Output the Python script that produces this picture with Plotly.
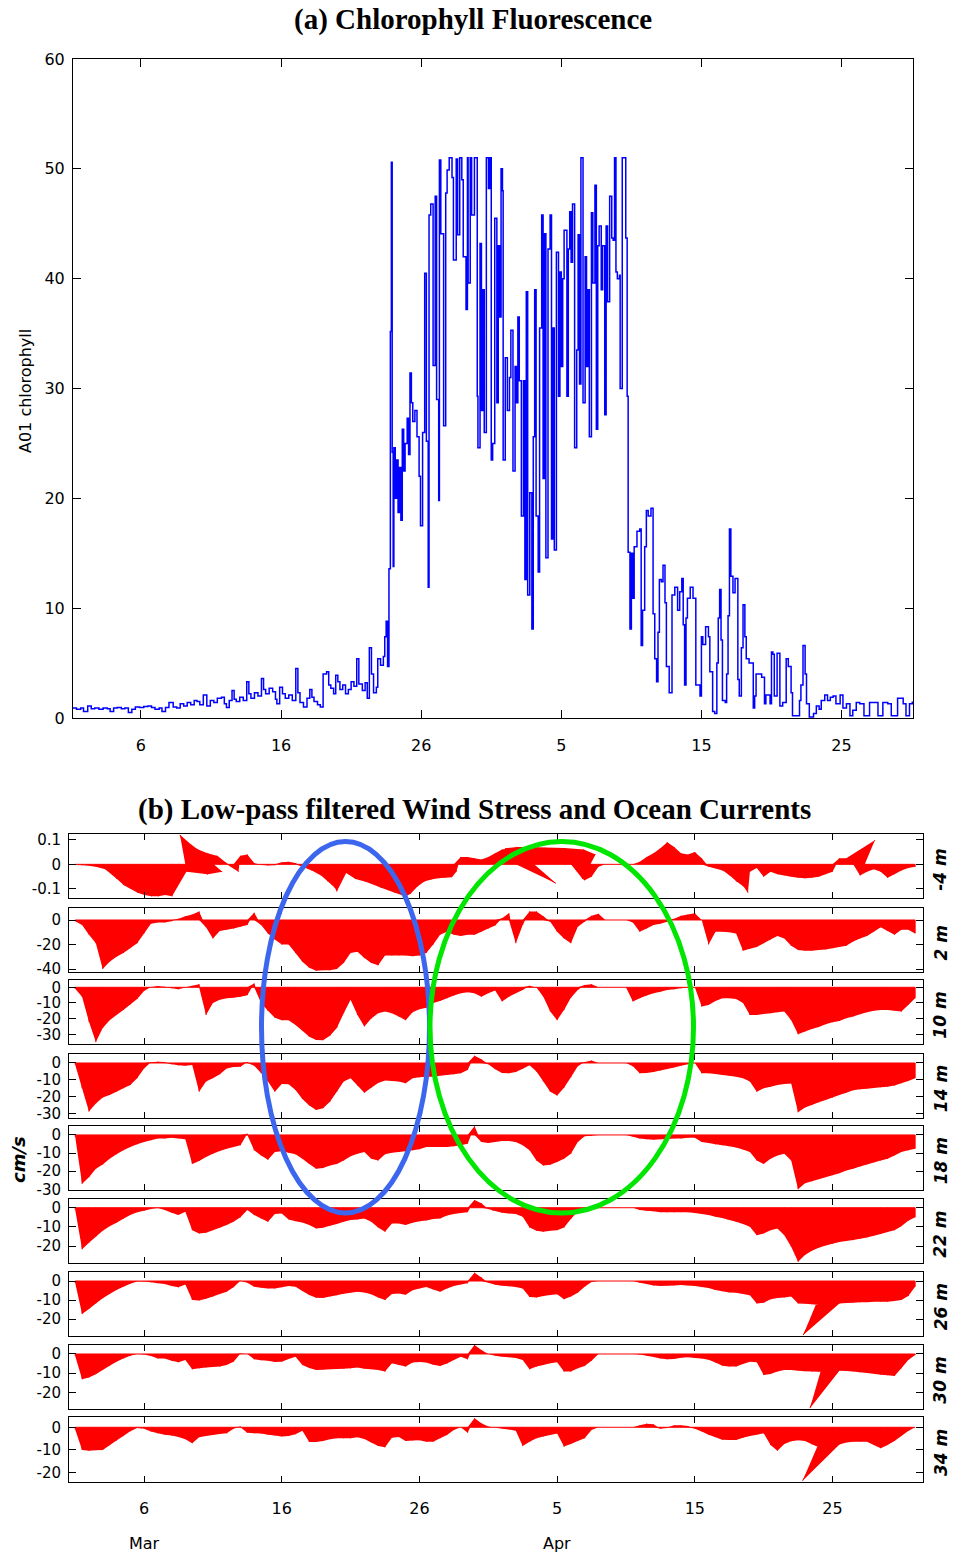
import plotly.graph_objects as go

W, H = 953, 1552

# ---------------- (a) chlorophyll fluorescence at buoy A01 ----------------
# day 0 = 1 March 00:00
chl_day = [
    0.15, 0.4, 0.7, 0.9, 1.2, 1.45, 1.7, 2.0, 2.3, 2.6,
    2.8, 3.05, 3.3, 3.6, 3.85, 4.1, 4.35, 4.6, 4.9, 5.2,
    5.5, 5.75, 6.0, 6.3, 6.5, 6.75, 7.0, 7.3, 7.55, 7.8,
    8.05, 8.3, 8.55, 8.8, 9.0, 9.2, 9.45, 9.7, 9.95, 10.2,
    10.45, 10.75, 10.95, 11.1, 11.3, 11.5, 11.65, 11.8, 12.05, 12.3,
    12.55, 12.7, 12.85, 13.1, 13.35, 13.6, 13.75, 13.9, 14.15, 14.4,
    14.6, 14.7, 14.9, 15.1, 15.3, 15.55, 15.8, 16.05, 16.2, 16.35,
    16.6, 16.85, 17.05, 17.2, 17.35, 17.6, 17.8, 18.0, 18.25, 18.4,
    18.55, 18.75, 18.9, 19.05, 19.2, 19.4, 19.6, 19.8, 20.0, 20.2,
    20.4, 20.55, 20.8, 21.0, 21.15, 21.3, 21.45, 21.6, 21.8, 21.9,
    22.1, 22.3, 22.4, 22.5, 22.6, 22.7, 22.8, 22.87, 22.93, 23.0,
    23.05, 23.15, 23.25, 23.35, 23.45, 23.55, 23.65, 23.75, 23.85, 24.0,
    24.1, 24.2, 24.3, 24.4, 24.55, 24.7, 24.85, 24.95, 25.1, 25.25,
    25.37, 25.5, 25.56, 25.68, 25.85, 26.0, 26.1, 26.25, 26.3, 26.4,
    26.6, 26.75, 26.85, 27.0, 27.2, 27.3, 27.5, 27.6, 27.75, 27.9,
    28.0, 28.2, 28.3, 28.35, 28.5, 28.6, 28.8, 28.9, 29.0, 29.05,
    29.2, 29.3, 29.4, 29.5, 29.65, 29.8, 29.9, 30.0, 30.1, 30.25,
    30.4, 30.5, 30.6, 30.7, 30.8, 30.85, 31.0, 31.15, 31.3, 31.4,
    31.55, 31.7, 31.8, 31.9, 32.0, 32.15, 32.3, 32.4, 32.5, 32.6,
    32.75, 32.9, 33.0, 33.1, 33.2, 33.35, 33.45, 33.6, 33.7, 33.8,
    33.9, 34.05, 34.2, 34.3, 34.4, 34.5, 34.65, 34.8, 34.9, 35.0,
    35.1, 35.2, 35.4, 35.5, 35.6, 35.7, 35.8, 35.95, 36.1, 36.2,
    36.3, 36.4, 36.55, 36.7, 36.8, 36.9, 37.0, 37.15, 37.25, 37.4,
    37.5, 37.6, 37.7, 37.85, 37.95, 38.1, 38.2, 38.3, 38.45, 38.6,
    38.7, 38.8, 38.9, 39.0, 39.15, 39.2, 39.35, 39.5, 39.6, 39.7,
    39.77, 39.9, 40.0, 40.1, 40.2, 40.4, 40.6, 40.7, 40.8, 40.95,
    41.07, 41.2, 41.4, 41.55, 41.67, 41.8, 41.9, 42.0, 42.14, 42.26,
    42.4, 42.5, 42.7, 42.9, 43.1, 43.3, 43.45, 43.6, 43.7, 43.8,
    43.9, 44.0, 44.2, 44.4, 44.6, 44.9, 45.0, 45.1, 45.3, 45.5,
    45.6, 45.8, 45.95, 46.1, 46.2, 46.3, 46.4, 46.5, 46.7, 46.8,
    46.9, 47.0, 47.1, 47.25, 47.4, 47.6, 47.7, 47.85, 47.97, 48.1,
    48.2, 48.4, 48.7, 48.8, 48.9, 49.0, 49.3, 49.5, 49.6, 49.9,
    50.0, 50.1, 50.2, 50.4, 50.6, 50.8, 51.05, 51.2, 51.4, 51.5,
    51.8, 52.0, 52.1, 52.25, 52.4, 52.5, 52.7, 53.0, 53.2, 53.4,
    53.55, 53.8, 54.0, 54.2, 54.4, 54.6, 54.9, 55.1, 55.35, 55.6,
    55.8, 56.05, 56.3, 56.6, 57.0, 57.4, 57.6, 57.95, 58.3, 58.55,
    58.8, 59.0, 59.4, 59.6, 59.85, 60.05,
]
chl_val = [
    0.9, 0.8, 0.9, 0.6, 1.1, 0.85, 0.9, 0.8, 0.9, 0.85,
    0.6, 0.9, 0.95, 0.85, 0.9, 0.5, 0.8, 1.0, 0.95, 1.05,
    1.1, 0.95, 0.8, 0.9, 0.6, 0.95, 1.4, 1.0, 0.9, 1.3,
    1.1, 1.4, 1.2, 1.6, 1.5, 1.2, 2.1, 1.1, 1.6, 1.4,
    1.8, 1.9, 1.3, 0.95, 1.6, 2.5, 1.7, 1.5, 1.9, 1.6,
    3.3, 2.2, 1.8, 2.3, 2.0, 3.6, 2.6, 2.2, 2.7, 2.4,
    1.7, 1.3, 2.8, 2.2, 1.8, 2.1, 1.6, 4.5, 2.3, 1.4,
    1.0, 1.8, 2.6, 1.9, 1.5, 1.2, 1.0, 4.0, 4.2, 3.0,
    2.7, 2.2, 3.9, 3.3, 2.6, 3.0, 2.2, 2.6, 3.3, 2.9,
    5.4, 3.1, 2.5, 3.2, 1.8, 6.4, 4.0, 2.3, 2.8, 5.4,
    4.8, 5.6, 7.4, 8.8, 4.7, 13.6, 35.2, 50.6, 24.2, 13.8,
    24.6, 20.0, 23.5, 18.7, 22.8, 18.0, 26.3, 22.5, 25.0, 27.3,
    24.0, 31.4, 28.7, 27.0, 28.0, 25.6, 22.0, 17.5, 26.0, 40.5,
    25.2, 11.9, 45.8, 46.8, 32.1, 47.5, 29.0, 19.8, 50.8, 44.1,
    26.6, 47.8, 49.9, 51.0, 49.2, 41.7, 50.9, 44.0, 51.0, 49.0,
    42.0, 37.2, 51.0, 39.6, 51.0, 45.8, 51.0, 51.0, 29.3, 24.6,
    43.2, 28.0, 39.0, 26.0, 51.0, 48.2, 51.0, 23.5, 25.0, 45.5,
    28.7, 43.0, 36.5, 50.0, 48.0, 23.5, 32.8, 28.0, 31.0, 35.3,
    22.5, 32.0, 28.7, 36.5, 30.7, 18.4, 30.7, 12.6, 38.8, 11.2,
    20.5, 8.1, 25.6, 39.0, 18.4, 13.3, 35.5, 45.8, 21.8, 44.1,
    14.6, 42.7, 45.8, 16.3, 35.5, 15.3, 42.4, 29.3, 40.6, 32.0,
    40.0, 44.4, 29.3, 42.7, 46.1, 41.5, 46.8, 24.6, 33.5, 44.0,
    30.4, 51.0, 28.7, 42.0, 32.0, 39.0, 25.6, 46.0, 39.6, 48.5,
    26.3, 43.0, 44.8, 39.0, 43.0, 27.6, 44.8, 37.9, 47.5, 43.7,
    43.5, 51.0, 40.6, 40.0, 40.3, 30.0, 51.0, 51.0, 43.7, 29.3,
    15.1, 8.1, 15.0, 10.9, 15.6, 17.0, 17.2, 6.6, 9.8, 15.6,
    18.9, 18.4, 19.1, 9.5, 5.4, 3.3, 7.8, 12.6, 12.4, 13.9,
    10.5, 4.7, 2.3, 11.2, 11.9, 9.8, 11.5, 12.7, 8.5, 3.0,
    9.1, 10.9, 11.9, 10.9, 3.0, 2.0, 7.4, 6.7, 8.3, 7.4,
    4.2, 0.6, 0.4, 5.0, 9.1, 11.7, 7.1, 1.6, 1.4, 4.0,
    9.3, 17.2, 12.9, 11.4, 12.7, 3.5, 2.0, 6.4, 10.3, 7.4,
    5.4, 5.0, 0.9, 2.0, 4.0, 4.0, 3.7, 1.3, 2.1, 1.3,
    6.0, 5.8, 2.0, 5.9, 1.1, 1.4, 5.4, 4.7, 2.3, 0.2,
    0.2, 1.6, 3.0, 6.6, 4.0, 1.3, 0.1, 0.4, 1.1, 0.8,
    1.6, 2.1, 1.6, 1.9, 2.0, 1.3, 2.1, 0.9, 1.3, 0.2,
    0.7, 1.4, 1.3, 0.2, 1.4, 1.4, 0.2, 1.4, 1.3, 0.2,
    0.2, 1.8, 1.3, 0.2, 1.3, 1.5,
]

# ---------------- (b) low-pass wind stress and currents ----------------
# sticks every 12 h from 1 March 00:00 (day 0) to 2 May 00:00 (day 61)
stick_days = [0.5 * i for i in range(123)]

# wind stress (N m^-2), north and east components
wind_north = [
    -0.003, -0.004, -0.006, -0.01, -0.02, -0.06, -0.085, -0.1, -0.115, -0.125,
    -0.13, -0.13, -0.125, -0.13, -0.03, -0.04, -0.03, 0.12, 0.10, 0.08,
    0.06, 0.045, 0.035, -0.03, 0.035, 0.04, 0.005, -0.003, -0.005, -0.004,
    0.008, 0.01, 0.005, -0.01, -0.025, -0.045, -0.07, -0.095, -0.11, -0.035,
    -0.06, -0.07, -0.08, -0.095, -0.105, -0.115, -0.125, -0.13, -0.12, -0.09,
    -0.07, -0.062, -0.057, -0.055, -0.052, -0.03, 0.03, 0.03, 0.025, 0.02,
    0.03, 0.045, 0.06, 0.065, 0.065, -0.077, 0.065, 0.07, 0.07, 0.068,
    0.066, 0.06, 0.04, -0.06, -0.065, -0.05, -0.01, 0.0, 0.0, 0.0,
    0.0, 0.0, 0.01, 0.03, 0.045, 0.065, 0.09, 0.07, 0.045, 0.04,
    0.05, 0.025, -0.01, -0.025, -0.045, -0.07, -0.09, -0.115, -0.03, -0.015,
    -0.05, -0.03, -0.04, -0.045, -0.05, -0.055, -0.057, -0.055, -0.05, -0.04,
    -0.03, 0.025, 0.025, 0.098, -0.045, -0.03, -0.02, -0.03, -0.055, -0.04,
    -0.025, -0.015, -0.01,
]
wind_east = [
    0.0, 0.0, 0.0, 0.0, 0.01, 0.03, 0.03, 0.03, 0.03, 0.03,
    0.03, 0.03, 0.03, 0.03, 0.06, 0.12, 0.15, -0.05, -0.06, -0.06,
    -0.06, -0.05, -0.04, 0.02, 0.0, 0.0, 0.0, 0.0, 0.0, 0.0,
    0.0, 0.0, 0.0, 0.0, 0.01, 0.02, 0.02, 0.02, 0.0, 0.01,
    0.02, 0.03, 0.03, 0.04, 0.04, 0.04, 0.04, 0.03, 0.02, 0.02,
    0.02, 0.02, 0.02, 0.02, 0.02, 0.01, 0.0, 0.0, 0.0, 0.0,
    0.0, 0.0, 0.0, 0.0, 0.0, 0.135, -0.1, -0.08, -0.05, -0.02,
    0.03, 0.08, 0.1, 0.02, 0.0, 0.0, 0.0, 0.0, 0.0, 0.0,
    0.0, 0.0, 0.0, 0.0, 0.0, 0.0, 0.0, 0.0, 0.0, 0.0,
    0.0, 0.0, 0.0, 0.03, 0.03, 0.03, 0.03, 0.02, 0.0, 0.0,
    0.0, 0.0, 0.0, 0.0, 0.0, 0.0, 0.0, 0.0, 0.0, 0.0,
    0.0, 0.0, 0.0, 0.088, 0.0, 0.0, 0.0, 0.0, 0.0, 0.0,
    0.0, 0.0, 0.0,
]

# current north components (cm/s) at each depth
v_2m = [
    -1, -4, -12, -19, -40, -34, -30, -27, -23, -19,
    -11, -3, -2, -2, -1, 1, 3, 4.5, 7, -6,
    -15, -9, -8, -7, -5.5, -4, 6, -4, -11, -16,
    -20, -20, -27, -34, -39, -41.5, -41, -41, -40, -35,
    -27, -26, -31, -35, -37, -29, -29, -29, -29, -29.5,
    -29, -27, -20, -12, -9.5, -12, -13, -12, -12, -9.5,
    -7, -4.5, 1.5, 5.5, -19, -4, 7, 7, 3, -1.5,
    -9.5, -15, -19, -5.5, -1.5, 3.5, 5, 0, 0, 0,
    0, -2, -9.5, -7, -4, -3, -1.5, 1, 3.5, 4.5,
    5.5, 0, -20, -9.5, -9.5, -10, -11, -25, -23.5, -22,
    -19, -16, -13, -15, -21, -24.5, -25, -25, -24.5, -24,
    -23, -22, -21, -17.5, -15, -13, -9.5, -6, -9, -12,
    -8, -8, -11,
]
v_10m = [
    -1, -6, -22, -35, -26, -21, -17.7, -14.5, -11, -7.5,
    -2.3, 0.2, 0.8, 0.4, -0.6, -1.3, -0.2, 1, 2, -17.7,
    -10, -8, -7, -6.6, -6, -5, 2.5, -10, -15, -19.4,
    -21, -21, -24, -27.7, -31.5, -33.6, -33.8, -31, -26, -16.6,
    -8, -17.7, -25, -20, -16.6, -15.5, -16.6, -18.7, -21, -16,
    -14, -13, -10, -8.7, -7, -5.3, -3.8, -3.2, -3.8, -6,
    -3.8, -2, -9, -6, -3.8, -1.7, 1, -0.2, -6, -15.5,
    -21, -14.5, -6.6, -1.7, 1.5, 2, 0, 0, 0, 0,
    0, -9, -7, -5.3, -3.8, -2.8, -1.7, -1.3, -0.6, -0.2,
    0, -12.3, -11.3, -8.7, -7, -7, -7.5, -10, -17.7, -17.7,
    -17, -16.6, -16, -15.5, -21, -30, -28.3, -26.6, -25.3, -23.6,
    -22.3, -21.5, -19.8, -18.7, -17.2, -16, -15, -14.5, -14.5, -15,
    -15.5, -11.3, -7,
]
v_14m = [
    -1, -15, -28.8, -24, -20.5, -19, -17, -15, -13, -9,
    -3.2, 0.4, 0.8, 0.6, -0.8, -1.4, -1.6, -1.2, -17, -11,
    -9, -6.7, -3.2, -2.4, -2.2, 0.6, -1.6, -6, -11, -17,
    -12.4, -12.6, -16, -21.3, -25.2, -27.8, -26.8, -22.9, -17, -11,
    -9, -13.4, -17.6, -14.6, -11.8, -10.3, -10.7, -11, -12, -9,
    -8.5, -8.1, -8.1, -7.5, -7.1, -6.7, -6.1, -4.1, 4.3, 2.2,
    -0.8, -3.7, -5.9, -6.1, -5.3, -3.4, -1.4, -5.1, -11, -17,
    -19.3, -14.6, -8.5, -2, 0.6, 1.4, 0, 0, 0, 0,
    0, -2, -6.1, -5.9, -5.3, -4.5, -3.6, -2.6, -1.6, -0.8,
    0, -6.1, -6.1, -6.5, -7.1, -7.5, -8.1, -9, -11, -17,
    -15, -14, -13, -12.4, -12.2, -29.2, -26.4, -24.9, -23.3, -21.9,
    -20.5, -18.9, -17.6, -16.2, -15.6, -15.2, -14.8, -14.4, -14, -13.4,
    -12, -10.7, -9,
]
v_18m = [
    -1, -27, -23.3, -18.7, -16.3, -13.1, -10.7, -8.5, -6.7, -5.2,
    -3.9, -3, -2, -2, -1.5, -2, -2.4, -16, -14.4, -12.2,
    -10.4, -8.9, -7.6, -6.7, -5.7, 0.7, -8.5, -11.3, -13.7, -9.4,
    -9, -9.8, -10.7, -13.1, -16, -18.7, -18.3, -16.9, -16, -14.1,
    -11.7, -10.4, -9.4, -13.1, -14.1, -10.7, -9.8, -9.4, -9, -8.5,
    -7.9, -6.7, -6.7, -6.7, -6.7, -6.3, -5.7, -4.8, 4.8, -3.9,
    -4.4, -3.9, -3.3, -3.3, -3.9, -5.7, -8.5, -14.1, -16.9, -16.5,
    -15, -13.1, -10.4, -3.9, -0.7, -0.4, 0, 0, 0, 0,
    0, -1, -2, -2.4, -2.6, -2.4, -2.2, -2, -1.9, -1.5,
    -1.5, -3.9, -4.4, -5.2, -5.7, -6.3, -7, -8.1, -9.4, -14.1,
    -16, -13.1, -11.3, -10.4, -14.1, -30, -26.7, -25.6, -24.4, -23.3,
    -22.2, -21.1, -19.6, -18.7, -17.4, -16.3, -15.2, -14.1, -13.1, -11.3,
    -9.4, -8.5, -7.6,
]
v_22m = [
    -1, -21.7, -18.3, -15.1, -12, -9.6, -7.8, -5.7, -3.8, -2.4,
    -1.6, -0.7, -0.2, -1.2, -2.6, -3.8, -2.1, -11.7, -13.4, -13,
    -11.7, -10.4, -9, -7.3, -5, -1.2, -3.8, -5.6, -7.3, -3.3,
    -3, -6.1, -7, -7.7, -9, -10.8, -10.4, -9.4, -8.5, -7.3,
    -6.4, -6.1, -5.6, -7.3, -10.3, -12.5, -8.2, -8.2, -9, -7.8,
    -7.1, -6.6, -5.9, -5.6, -4, -3.3, -2.8, -2.3, 4, 2.3,
    -0.7, -1.7, -2.6, -3, -3.3, -4.7, -10.3, -12, -12.5, -12,
    -11.7, -10.3, -5.9, -1.9, -0.3, 0, 0, 0, 0, 0,
    0, 0, -1.2, -1.6, -1.9, -2.3, -2.4, -2.4, -2.3, -2.4,
    -2.8, -3.3, -3.8, -4.7, -5.4, -6.4, -7.3, -8.5, -9.9, -14.3,
    -13.4, -11.7, -10.8, -14.3, -20.3, -28.2, -24.7, -22.4, -20.9, -19.7,
    -18.8, -17.9, -17.4, -16.9, -16.2, -15.5, -14.6, -13.7, -12.7, -11.7,
    -9.6, -6.8, -5,
]
v_26m = [
    -1, -17.4, -14.7, -11.8, -9.1, -6.8, -4.7, -3, -1.4, -0.2,
    -0.2, -0.7, -1.2, -1.6, -2.6, -3.3, -1.8, -10, -10.2, -9.3,
    -8.2, -6.8, -5.6, -3.3, 0.2, -0.9, -3, -3.5, -3.9, -3.9,
    -3.3, -2.6, -3, -5.3, -7.4, -8.8, -8.9, -8.2, -7.5, -6.7,
    -6.1, -5.6, -6, -7, -8.6, -10, -6.8, -6.5, -7.2, -4.9,
    -3.9, -3.2, -4.4, -5.6, -3.9, -2.6, -1.8, -1.2, 4.4, 1.9,
    -0.9, -1.9, -2.5, -2.8, -3.2, -3.9, -8.4, -8.6, -7.9, -7.4,
    -7, -9.6, -8.2, -6.1, -3, -0.5, 0, 0, 0, 0,
    0, 0, -0.9, -1.6, -2.3, -2.6, -2.5, -2.3, -2.1, -2.3,
    -2.6, -3.2, -3.7, -4.7, -5.4, -6, -6.1, -6.8, -7.5, -11.8,
    -11.4, -9.6, -8.9, -8.6, -8.2, -11.8, -12, -12.2, -12.6, -12.6,
    -28.4, -11.8, -11.6, -11.4, -11.2, -11.1, -10.9, -10.9, -10.9, -10.5,
    -10, -7.9, -3,
]
v_30m = [
    -1, -13.2, -12.3, -10.6, -8.3, -6.1, -4, -2.3, -0.9, 0,
    -0.2, -1, -2.3, -2.3, -3.5, -4.3, -3.1, -8, -7.5, -7,
    -6.8, -6.6, -5.7, -4, 0.3, 0, -2.8, -3.3, -3.5, -4.2,
    -4, -2.6, -1.4, -5.7, -7.3, -8.3, -8.2, -8, -7.8, -7.7,
    -7.5, -7, -7.7, -8, -8.3, -9.2, -4.9, -5.7, -6.6, -4.5,
    -4.2, -4.5, -5.6, -6.3, -5, -3.1, -1.4, -2.8, 4.7, 2.1,
    0, -0.9, -1.4, -1.7, -2.1, -3.1, -8, -6.6, -5.7, -4.9,
    -4.3, -9.2, -9.2, -7.5, -6.3, -3.5, 0, 0, 0, 0,
    0, 0, -0.3, -0.9, -1.6, -2.3, -2.8, -2.6, -1.9, -1.7,
    -2.1, -2.4, -3, -4.5, -6.1, -6.6, -6.6, -5.2, -4, -4.3,
    -11, -10.4, -9.2, -8.3, -8.3, -8.7, -9, -9.2, -9.3, -9.3,
    -28.3, -8.7, -8.9, -9.2, -9.6, -9.9, -10.3, -10.8, -11.1, -11.5,
    -7.5, -3.1, -0.5,
]
v_34m = [
    -1, -10.1, -10.4, -10.2, -10.1, -8, -5.9, -3.9, -1.8, -0.3,
    -0.6, -1.9, -2.7, -3.3, -3.7, -4.3, -5.3, -7.1, -4.4, -3.9,
    -3.4, -3, -2.7, -0.6, 0.3, -2.4, -2.7, -2.8, -3.3, -3.7,
    -4.1, -3.9, -3.1, -1.5, -6.5, -6.5, -6.1, -5.3, -4.9, -4.9,
    -4.9, -4.4, -5.2, -6.8, -8.3, -8.9, -4.6, -4.3, -6.1, -5.9,
    -5.8, -6.4, -6.4, -4.9, -3.4, -1.2, 0, -2.4, 4, 1.8,
    0.3, -0.1, -0.6, -1, -1.5, -8.3, -6.4, -4.9, -4.1, -3.4,
    -2.8, -8.6, -7.4, -6.1, -4.9, -1.2, 0, 0, 0, 0,
    0, 0, 0.9, 1.6, 1.3, -0.6, -0.3, 0.9, 0.9, 0.6,
    -0.6, -1.9, -3.3, -4.4, -5.5, -5.6, -5.6, -4.7, -3.9, -3.3,
    -2.7, -7.9, -10.4, -7.4, -6.2, -5.8, -6.1, -7.6, -8.9, -9.3,
    -23.8, -7.7, -6.8, -6.4, -6.4, -6.4, -7.9, -9.3, -7.9, -6.1,
    -3.9, -1.6, 0,
]
# east components (cm/s) of the strongly tilted current sticks; all others point due north/south
u_tilted = {
    "26 m": {55.0: -15.4},
    "30 m": {55.0: -11.8},
    "34 m": {55.0: -13.3},
}

date_tick_days = [5, 15, 25, 35, 45, 55]
date_tick_text = ["6", "16", "26", "5", "15", "25"]
month_names = ["Mar", "Apr"]
month_days = [5, 35]
chl_ticks = [0, 10, 20, 30, 40, 50, 60]


def fx(px):
    return px / W


def fy(py):
    return 1 - py / H


SANS = "DejaVu Sans, Verdana, sans-serif"
SERIF = "Liberation Serif, Times New Roman, serif"
top_tick_font = dict(family=SANS, size=16, color="black")
low_tick_font = dict(family=SANS, size=15, color="black")

fig = go.Figure()
layout = dict(
    width=W, height=H, template="none",
    margin=dict(l=0, r=0, t=0, b=0, pad=0),
    paper_bgcolor="white", plot_bgcolor="white", showlegend=False,
)

# ----- panel (a)
fig.add_trace(go.Scatter(
    x=chl_day, y=chl_val, mode="lines", xaxis="x", yaxis="y",
    line=dict(color="#0000ff", width=1.5, shape="hv", simplify=False),
    hoverinfo="skip",
))
box = dict(showline=True, linecolor="black", linewidth=1, mirror="ticks",
           ticks="inside", tickcolor="black", showgrid=False, zeroline=False,
           automargin=False)
layout["xaxis"] = dict(box, domain=[fx(73), fx(913)], range=[0.15, 60.1],
                       tickvals=date_tick_days, ticktext=date_tick_text,
                       tickfont=top_tick_font, ticklen=8, anchor="y",
                       ticklabelstandoff=13)
layout["yaxis"] = dict(box, domain=[fy(718), fy(59)], range=[0, 60],
                       tickvals=chl_ticks, ticktext=[str(v) for v in chl_ticks],
                       tickfont=top_tick_font, ticklen=8, anchor="x",
                       ticklabelstandoff=4)

# ----- panel (b) stick plots
panels = [
    dict(name="-4 m", top=834.3, bottom=898.3, yr=[-0.138, 0.122],
         ticks=[-0.1, 0, 0.1], text=["-0.1", "0", "0.1"], v=wind_north, u=wind_east),
    dict(name="2 m", top=908.3, bottom=971.7, yr=[-42.2, 9.55],
         ticks=[-40, -20, 0], text=["-40", "-20", "0"], v=v_2m),
    dict(name="10 m", top=980.0, bottom=1044.3, yr=[-36.4, 4.66],
         ticks=[-30, -20, -10, 0], text=["-30", "-20", "-10", "0"], v=v_10m),
    dict(name="14 m", top=1053.7, bottom=1117.7, yr=[-32.4, 5.5],
         ticks=[-30, -20, -10, 0], text=["-30", "-20", "-10", "0"], v=v_14m),
    dict(name="18 m", top=1125.7, bottom=1190.0, yr=[-30.4, 5.1],
         ticks=[-30, -20, -10, 0], text=["-30", "-20", "-10", "0"], v=v_18m),
    dict(name="22 m", top=1199.3, bottom=1263.3, yr=[-29.0, 4.4],
         ticks=[-20, -10, 0], text=["-20", "-10", "0"], v=v_22m),
    dict(name="26 m", top=1271.7, bottom=1336.0, yr=[-28.9, 4.9],
         ticks=[-20, -10, 0], text=["-20", "-10", "0"], v=v_26m),
    dict(name="30 m", top=1345.0, bottom=1409.3, yr=[-28.9, 4.7],
         ticks=[-20, -10, 0], text=["-20", "-10", "0"], v=v_30m),
    dict(name="34 m", top=1417.3, bottom=1481.7, yr=[-24.2, 4.44],
         ticks=[-20, -10, 0], text=["-20", "-10", "0"], v=v_34m),
]
X_LEFT, X_RIGHT = 69.0, 922.7
XR = [-0.45, 61.55]


def swept_area(t, u, v, k):
    """Triangles covering the area swept between consecutive sticks,
    all wound the same way so overlaps stay filled."""
    xs, ys = [], []
    base = [(ti, 0.0) for ti in t]
    tip = [(ti + ui * k, vi) for ti, ui, vi in zip(t, u, v)]
    for i in range(len(t) - 1):
        for a, b, c in ((base[i], tip[i], tip[i + 1]),
                        (base[i], tip[i + 1], base[i + 1])):
            area = (b[0] - a[0]) * (c[1] - a[1]) - (c[0] - a[0]) * (b[1] - a[1])
            if abs(area) < 1e-12:
                continue
            if area < 0:
                b, c = c, b
            xs += [a[0], b[0], c[0], None]
            ys += [a[1], b[1], c[1], None]
    return xs, ys


annotations = []
for j, p in enumerate(panels):
    n = j + 2
    v = p["v"]
    assert len(v) == len(stick_days)
    if "u" in p:
        u = p["u"]
    else:
        tilt = u_tilted.get(p["name"], {})
        u = [tilt.get(d, 0.0) for d in stick_days]
    # equal scaling of the two velocity components on screen
    px_per_unit = (p["bottom"] - p["top"]) / (p["yr"][1] - p["yr"][0])
    px_per_day = (X_RIGHT - X_LEFT) / (XR[1] - XR[0])
    k = px_per_unit / px_per_day

    xs, ys = swept_area(stick_days, u, v, k)
    fig.add_trace(go.Scatter(
        x=xs, y=ys, mode="lines", fill="toself", fillcolor="#ff0000",
        line=dict(width=0, color="#ff0000", simplify=False),
        xaxis=f"x{n}", yaxis=f"y{n}", hoverinfo="skip",
    ))
    sx, sy = [], []
    for ti, ui, vi in zip(stick_days, u, v):
        sx += [ti, ti + ui * k, None]
        sy += [0.0, vi, None]
    fig.add_trace(go.Scatter(
        x=sx, y=sy, mode="lines", line=dict(width=1, color="#ff0000", simplify=False),
        xaxis=f"x{n}", yaxis=f"y{n}", hoverinfo="skip",
    ))
    fig.add_trace(go.Scatter(
        x=[stick_days[0], stick_days[-1]], y=[0, 0], mode="lines",
        line=dict(width=1, color="#ff0000"),
        xaxis=f"x{n}", yaxis=f"y{n}", hoverinfo="skip",
    ))

    last = j == len(panels) - 1
    layout[f"xaxis{n}"] = dict(
        box, domain=[fx(X_LEFT), fx(X_RIGHT)], range=XR,
        tickvals=date_tick_days, ticktext=date_tick_text, showticklabels=last,
        tickfont=top_tick_font, ticklen=6, anchor=f"y{n}", ticklabelstandoff=12,
    )
    layout[f"yaxis{n}"] = dict(
        box, domain=[fy(p["bottom"]), fy(p["top"])], range=p["yr"],
        tickvals=p["ticks"], ticktext=p["text"], tickfont=low_tick_font,
        ticklen=7, anchor=f"x{n}", ticklabelstandoff=4,
    )
    annotations.append(dict(
        x=fx(940.5), y=fy((p["top"] + p["bottom"]) / 2 + 3), xref="paper", yref="paper",
        text=f"<b><i>{p['name']}</i></b>", showarrow=False, textangle=-90,
        font=dict(family=SANS, size=17, color="black"),
        xanchor="center", yanchor="middle",
    ))

# month names below the first tick of each month
for name, d in zip(month_names, month_days):
    xpx = X_LEFT + (d - XR[0]) / (XR[1] - XR[0]) * (X_RIGHT - X_LEFT)
    annotations.append(dict(
        x=fx(xpx), y=fy(1543), xref="paper", yref="paper", text=name,
        showarrow=False, font=dict(family=SANS, size=16, color="black"),
        xanchor="center", yanchor="middle",
    ))

annotations += [
    dict(x=fx(473), y=fy(20), xref="paper", yref="paper",
         text="<b>(a) Chlorophyll Fluorescence</b>", showarrow=False,
         font=dict(family=SERIF, size=29, color="black"),
         xanchor="center", yanchor="middle"),
    dict(x=fx(474), y=fy(809), xref="paper", yref="paper",
         text="<b>(b) Low-pass filtered Wind Stress and Ocean Currents</b>",
         showarrow=False, font=dict(family=SERIF, size=29, color="black"),
         xanchor="center", yanchor="middle"),
    dict(x=fx(25), y=fy(391), xref="paper", yref="paper",
         text="A01 chlorophyll", showarrow=False, textangle=-90,
         font=dict(family=SANS, size=16, color="black"),
         xanchor="center", yanchor="middle"),
    dict(x=fx(18), y=fy(1160), xref="paper", yref="paper",
         text="<b><i>cm/s</i></b>", showarrow=False, textangle=-90,
         font=dict(family=SANS, size=18, color="black"),
         xanchor="center", yanchor="middle"),
]
layout["annotations"] = annotations

# highlighted periods
layout["shapes"] = [
    dict(type="circle", xref="paper", yref="paper", layer="above",
         x0=fx(261.5), x1=fx(429.5), y0=fy(1213), y1=fy(841.5),
         line=dict(color="#3d66ee", width=5)),
    dict(type="circle", xref="paper", yref="paper", layer="above",
         x0=fx(430), x1=fx(693.5), y0=fy(1213), y1=fy(841.5),
         line=dict(color="#00e600", width=5)),
]

fig.update_layout(**layout)
fig.write_html("out.html")
